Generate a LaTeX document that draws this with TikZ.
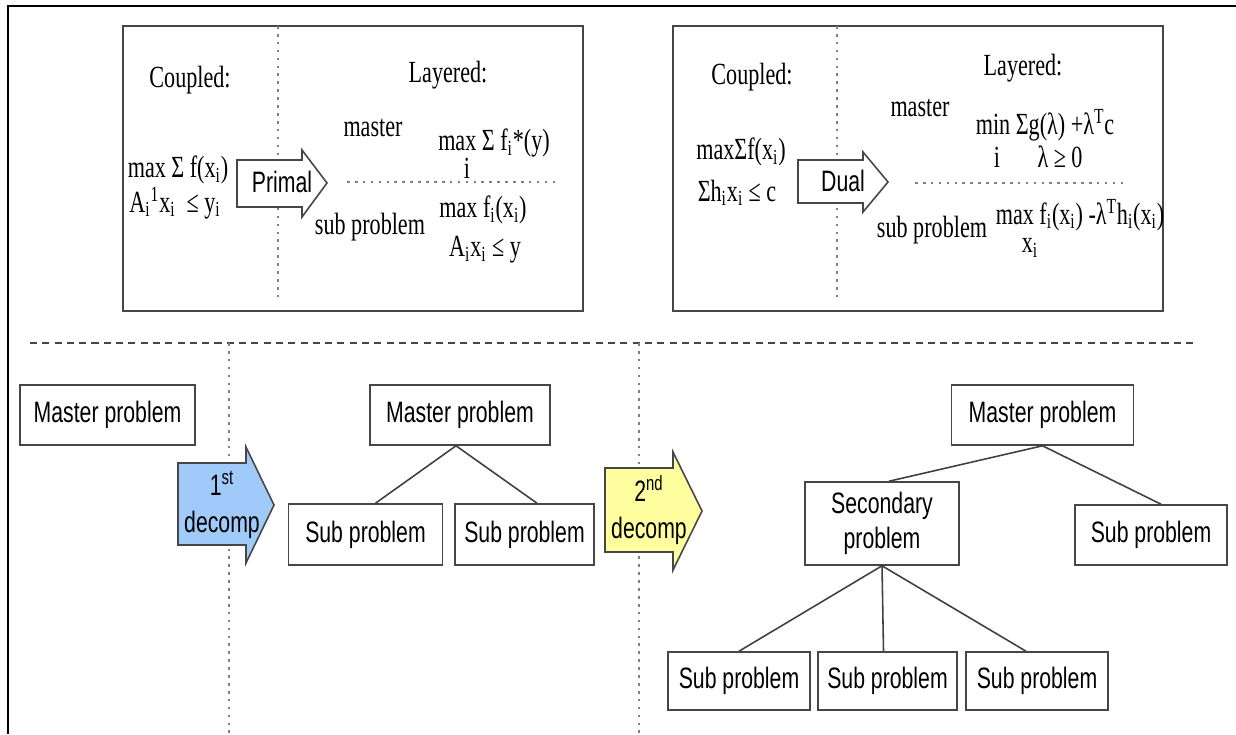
\documentclass[tikz,border=0pt]{standalone}
\usepackage{fontspec}
\setmainfont{Liberation Serif}[FakeStretch=0.72]
\newfontfamily\boxfont{Liberation Sans}[FakeStretch=0.72]
\definecolor{boxgray}{RGB}{70,70,70}
\definecolor{decompblue}{RGB}{160,202,250}
\definecolor{decompyellow}{RGB}{255,255,160}

\begin{document}
\begin{tikzpicture}[x=0.02cm, y=-0.02cm, thick,
    panel/.style = {draw=boxgray, line width=1pt, inner sep=0pt},
    prob/.style = {draw=boxgray, line width=0.9pt, font=\boxfont\fontsize{16.8}{20}\selectfont, minimum height=1.2cm, inner sep=0pt, align=center},
    txt/.style = {font=\fontsize{17.5}{20}\selectfont, inner sep=0pt},
    sans/.style = {font=\boxfont\fontsize{16.8}{21}\selectfont, inner sep=0pt, align=center},
    sep/.style = {draw=gray, dash pattern=on 1.5pt off 3pt, line width=0.7pt},
    link/.style = {draw=black!75, line width=0.9pt},
    bigarrow/.style = {draw=boxgray, line width=0.9pt}]
    \useasboundingbox (0,0) rectangle (1236,734);
    \draw[line width=1.2pt] (8,734) -- (8,6) -- (1236,6);
    % primal panel
    \node[panel, minimum width=9.2cm, minimum height=5.7cm] (pp) at (353,168.5) {};
    \draw[sep] (278,26) -- (278,300);
    \draw[sep] (347,182) -- (560,182);
    \node[txt] (coup1) at (190,80) {Coupled:};
    \node[txt] (lay1) at (448,75) {Layered:};
    \node[txt] (cf1) at (178,170) {max Σ f(x\textsubscript{i})};
    \node[txt] (cc1) at (175,203) {A\textsubscript{i}\textsuperscript{1}x\textsubscript{i}\ \ ≤ y\textsubscript{i}};
    \node[txt] (mas1) at (373,128) {master};
    \node[txt] (mf1) at (494,143) {max Σ f\textsubscript{i}*(y)};
    \node[txt] (mi1) at (467,168) {i};
    \node[txt] (sub1) at (370,227) {sub problem};
    \node[txt] (sf1) at (483,210) {max f\textsubscript{i}(x\textsubscript{i})};
    \node[txt] (sc1) at (485,250) {A\textsubscript{i}x\textsubscript{i} ≤ y};
    \draw[bigarrow, fill=white] (237,160) -- (302,160) -- (302,150) -- (327,183) -- (302,217) -- (302,207) -- (237,207) -- cycle;
    \node[sans] (primal) at (282,182) {Primal};
    % dual panel
    \node[panel, minimum width=9.8cm, minimum height=5.7cm] (dp) at (918,168.5) {};
    \draw[sep] (837,26) -- (837,300);
    \draw[sep] (915,183) -- (1127,183);
    \node[txt] (coup2) at (752,77) {Coupled:};
    \node[txt] (lay2) at (1023,68) {Layered:};
    \node[txt] (cf2) at (741,152) {maxΣf(x\textsubscript{i})};
    \node[txt] (cc2) at (737,193) {Σh\textsubscript{i}x\textsubscript{i} ≤ c};
    \node[txt] (mas2) at (920,108) {master};
    \node[txt] (mf2) at (1045,125) {min Σg(λ) +λ\textsuperscript{T}c};
    \node[txt] (mi2) at (997,157) {i};
    \node[txt] (ml2) at (1060,157) {λ ≥ 0};
    \node[txt] (sub2) at (932,230) {sub problem};
    \node[txt] (sf2) at (1080,215) {max f\textsubscript{i}(x\textsubscript{i}) -λ\textsuperscript{T}h\textsubscript{i}(x\textsubscript{i})};
    \node[txt] (sx2) at (1030,248) {x\textsubscript{i}};
    \draw[bigarrow, fill=white] (798,160) -- (863,160) -- (863,152) -- (888,182) -- (863,212) -- (863,203) -- (798,203) -- cycle;
    \node[sans] (dual) at (843,181) {Dual};
    % decomposition
    \draw[draw=boxgray, line width=1.1pt, dash pattern=on 4pt off 3pt] (30,343) -- (1197,343);
    \draw[sep] (229,343) -- (229,734);
    \draw[sep] (639,343) -- (639,734);
    \node[prob, minimum width=3.5cm] (m0) at (107.5,415) {Master problem};
    \draw[bigarrow, fill=decompblue] (178,463) -- (246,463) -- (246,447) -- (274,505) -- (246,563) -- (246,545) -- (178,545) -- cycle;
    \node[sans] (d1) at (222,505) {1\textsuperscript{st}\\decomp};
    \node[prob, minimum width=3.6cm] (m1) at (460,415) {Master problem};
    \node[prob, minimum width=3.08cm, minimum height=1.22cm] (s1) at (365.5,534.5) {Sub problem};
    \node[prob, minimum width=2.78cm, minimum height=1.22cm] (s2) at (524.5,534.5) {Sub problem};
    \draw[link] ([xshift=-0.08cm]m1.south) -- ([xshift=0.2cm]s1.north);
    \draw[link] ([xshift=-0.08cm]m1.south) -- ([xshift=0.25cm]s2.north);
    \draw[bigarrow, fill=decompyellow] (605,468) -- (673,468) -- (673,452) -- (702,511) -- (673,570) -- (673,552) -- (605,552) -- cycle;
    \node[sans] (d2) at (649,510) {2\textsuperscript{nd}\\decomp};
    \node[prob, minimum width=3.64cm] (m2) at (1042.5,415) {Master problem};
    \node[prob, minimum width=3.08cm, minimum height=1.66cm] (sec) at (882,523.5) {Secondary\\problem};
    \node[prob, minimum width=3.04cm] (s3) at (1151,535) {Sub problem};
    \node[prob, minimum width=2.84cm, minimum height=1.16cm] (s4) at (739,681) {Sub problem};
    \node[prob, minimum width=2.78cm, minimum height=1.16cm] (s5) at (887.5,681) {Sub problem};
    \node[prob, minimum width=2.84cm, minimum height=1.16cm] (s6) at (1037,681) {Sub problem};
    \draw[link] (m2.south) -- ([xshift=0.14cm]sec.north);
    \draw[link] (m2.south) -- ([xshift=0.2cm]s3.north);
    \draw[link] (sec.south) -- (s4.north);
    \draw[link] (sec.south) -- ([xshift=-0.08cm]s5.north);
    \draw[link] (sec.south) -- ([xshift=-0.22cm]s6.north);
\end{tikzpicture}
\end{document}
